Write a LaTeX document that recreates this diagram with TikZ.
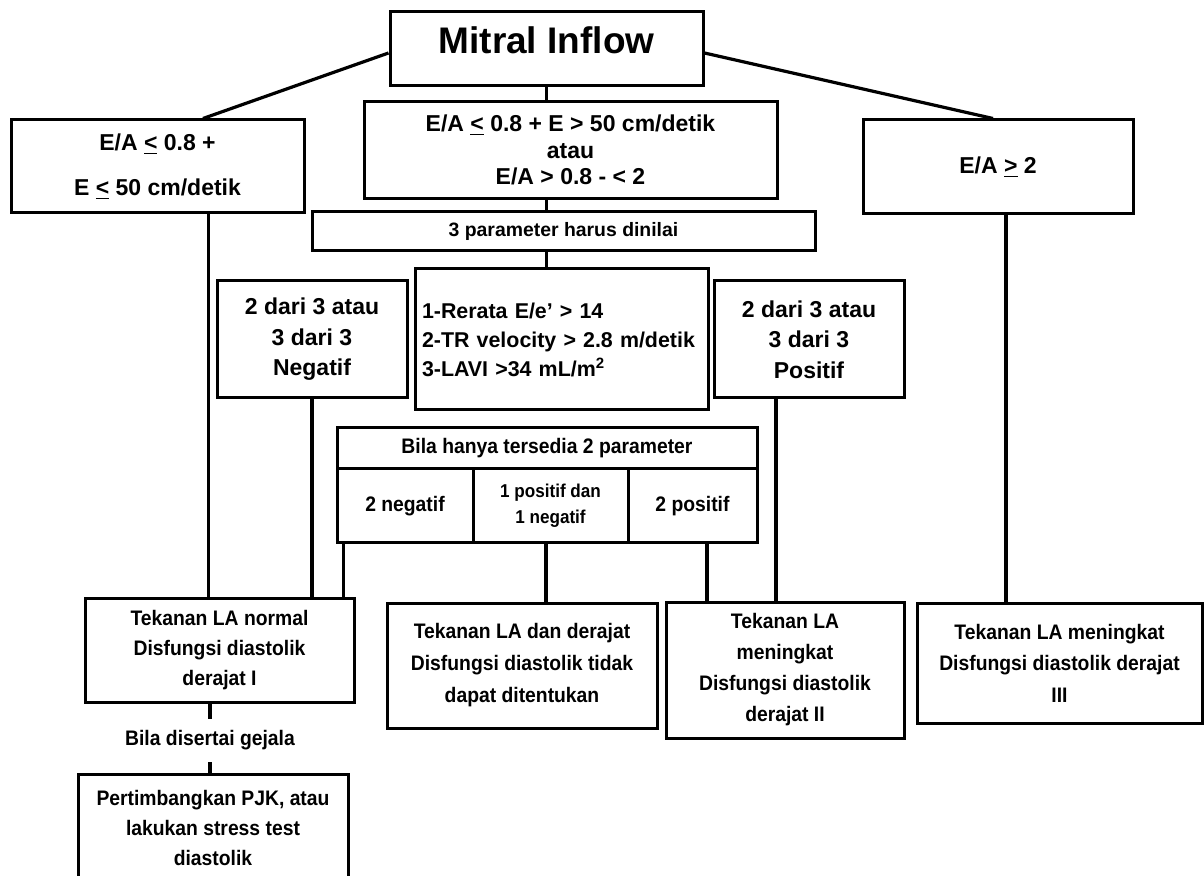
\documentclass[tikz,border=0pt]{standalone}
\usepackage{fontspec}
\setmainfont{Liberation Sans}
\newfontfamily\narrowfont[FakeStretch=0.92]{Liberation Sans}
\usetikzlibrary{positioning}

\begin{document}
\begin{tikzpicture}[x=0.5pt,y=-0.5pt]
\tikzset{
block/.style={rectangle, draw=black, line width=1.5pt, inner sep=0pt, align=center,
font=\bfseries\fontsize{11.5}{15.25}\selectfont},
lowblock/.style={block, font=\narrowfont\bfseries\fontsize{10.5}{15}\selectfont},
mylabel/.style={inner sep=0pt, align=center, font=\narrowfont\bfseries\fontsize{10.5}{13}\selectfont},
myline/.style={line width=1.6pt},
}
\useasboundingbox (0,0) rectangle (1204,876);
\clip (0,0) rectangle (1204,876);

% first level
\node [block, font=\bfseries\fontsize{18.5}{20}\selectfont, minimum width=156.5pt,
  text height=21pt, text depth=16pt] (mitral) at (546.5,49) {Mitral Inflow};
\node [block, font=\bfseries\fontsize{11.5}{22.5}\selectfont, minimum width=146.5pt,
  minimum height=46.5pt] (ealow) at (157.5,166.5) {E/A \underline{<} 0.8 +\\E \underline{<} 50 cm/detik};
\node [block, font=\bfseries\fontsize{11.5}{13.25}\selectfont, minimum width=206.5pt,
  minimum height=48.5pt] (eamid) at (570.5,150) {E/A \underline{<} 0.8 + E > 50 cm/detik\\atau\\E/A > 0.8 - < 2};
\node [block, minimum width=135pt, minimum height=47pt] (eahigh) at (998,167) {E/A \underline{>} 2};

% three parameters
\node [block, font=\bfseries\fontsize{9.7}{12}\selectfont, minimum width=251.5pt,
  minimum height=19.5pt] (tiga) at (563.5,231.5) {3 parameter harus dinilai};
\node [block, font=\bfseries\fontsize{10.7}{14.5}\selectfont, align=left, inner xsep=3.5pt,
  text width=139.5pt, minimum height=70.5pt] (param) at (561.5,339.5)
  {1-Rerata E/e’ > 14\\2-TR velocity > 2.8 m/detik\\3-LAVI >34 mL/m\textsuperscript{2}};
\node [block, minimum width=95pt, minimum height=58.5pt] (negatif) at (312,339.5) {2 dari 3 atau\\3 dari 3\\Negatif};
\node [block, minimum width=95pt, minimum height=58.5pt] (positif) at (809,339.5) {2 dari 3 atau\\3 dari 3\\Positif};

% only two parameters
\node [lowblock, minimum width=210pt, minimum height=20.5pt] (dua) at (547,448.5) {Bila hanya tersedia 2 parameter};
\node [lowblock, minimum width=68pt, minimum height=37pt] (cneg) at (405,506) {2 negatif};
\node [lowblock, font=\narrowfont\bfseries\fontsize{9.3}{13}\selectfont, minimum width=77.5pt,
  minimum height=37pt] (cmix) at (550.5,506) {1 positif dan\\1 negatif};
\node [lowblock, minimum width=64.5pt, minimum height=37pt] (cpos) at (692.5,506) {2 positif};

% results
\node [lowblock, minimum width=134.5pt, minimum height=52pt] (normal) at (219.5,650)
  {Tekanan LA normal\\Disfungsi diastolik\\derajat I};
\node [lowblock, font=\narrowfont\bfseries\fontsize{10.5}{16}\selectfont, minimum width=135pt,
  minimum height=62.5pt] (tidak) at (522,665.5)
  {Tekanan LA dan derajat\\Disfungsi diastolik tidak\\dapat ditentukan};
\node [lowblock, font=\narrowfont\bfseries\fontsize{10.5}{15.5}\selectfont, minimum width=119pt,
  minimum height=68pt] (meningkat) at (785,670)
  {Tekanan LA\\meningkat\\Disfungsi diastolik\\derajat II};
\node [lowblock, font=\narrowfont\bfseries\fontsize{10.5}{15.75}\selectfont, minimum width=142.5pt,
  minimum height=60pt] (berat) at (1059.5,663)
  {Tekanan LA meningkat\\Disfungsi diastolik derajat\\III};
\node [mylabel, minimum height=21.5pt] (gejala) at (210,740.5) {Bila disertai gejala};
\node [lowblock, minimum width=135pt, minimum height=54pt] (pjk) at (213,828)
  {Pertimbangkan PJK, atau\\lakukan stress test\\diastolik};

% connectors
\draw[myline] ([yshift=-2pt]mitral.west) -- ([xshift=22.75pt]ealow.north);
\draw[myline] ([yshift=-2pt]mitral.east) -- ([xshift=-2.5pt]eahigh.north);
\draw[myline] (mitral.south) -- (mitral.south |- eamid.north);
\draw[myline] (mitral.south |- eamid.south) -- (mitral.south |- tiga.north);
\draw[myline] (mitral.south |- tiga.south) -- (mitral.south |- param.north);
\draw[myline] ([xshift=25.5pt]ealow.south) -- ([xshift=25.5pt]ealow.south |- normal.north);
\draw[myline] (negatif.south) -- (negatif.south |- normal.north);
\draw[myline] ([xshift=4pt]cneg.south west) -- ([xshift=4pt]cneg.south west |- normal.north);
\draw[myline] ([xshift=-2.25pt]cmix.south) -- ([xshift=-2.25pt]cmix.south |- tidak.north);
\draw[myline] ([xshift=7.25pt]cpos.south) -- ([xshift=7.25pt]cpos.south |- meningkat.north);
\draw[myline] ([xshift=-16.5pt]positif.south) -- ([xshift=-16.5pt]positif.south |- meningkat.north);
\draw[myline] ([xshift=4pt]eahigh.south) -- ([xshift=4pt]eahigh.south |- berat.north);
\draw[myline] (gejala.north) -- (gejala.north |- normal.south);
\draw[myline] (gejala.south) -- (gejala.south |- pjk.north);
\end{tikzpicture}
\end{document}
